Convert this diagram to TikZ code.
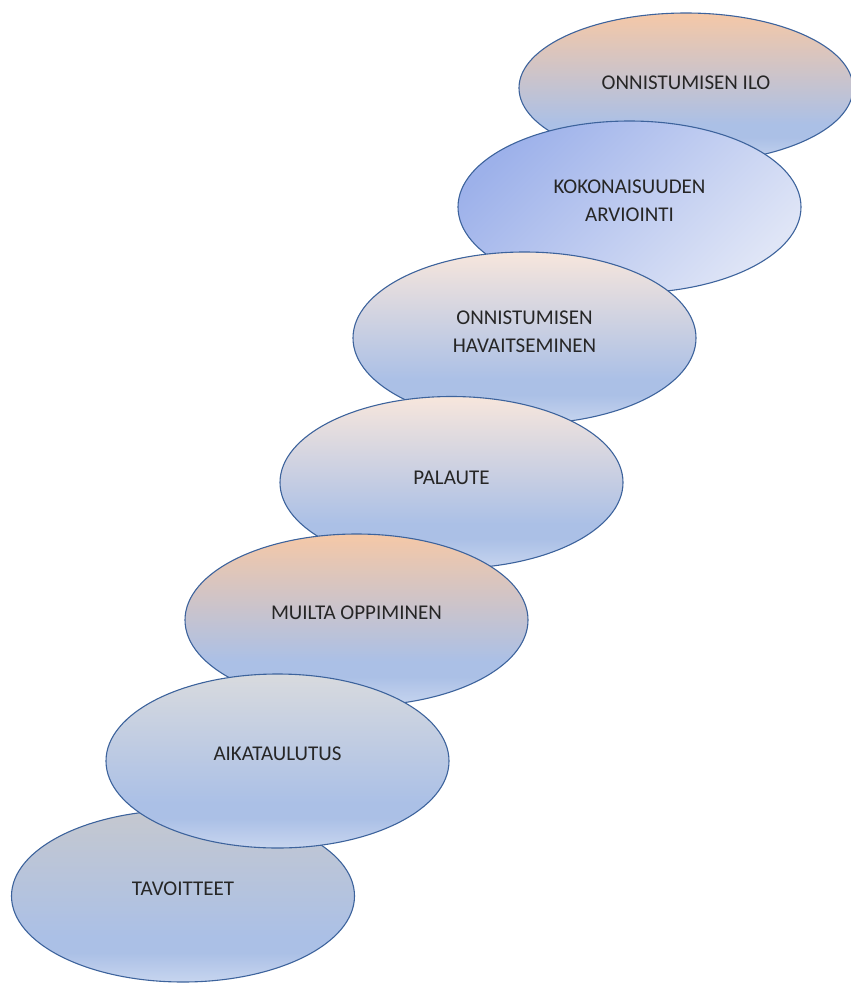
\documentclass[tikz,border=0pt]{standalone}
\usepackage{fontspec}
\setmainfont{Carlito}
\usetikzlibrary{shapes.geometric}

% gradient colours
\definecolor{stepblue}{HTML}{ABC0E6}
\definecolor{steplight}{HTML}{C7D5EF}
\definecolor{topgrey}{HTML}{C5C8CF}
\definecolor{toppale}{HTML}{D8DADE}
\definecolor{toporange}{HTML}{F5C8A7}
\definecolor{toppeach}{HTML}{F7E6DC}
\definecolor{kokdark}{HTML}{9DB1EA}
\definecolor{koklight}{HTML}{DFE5F6}
\definecolor{edgeblue}{HTML}{3D639C}
\definecolor{labeltext}{HTML}{262626}

% vertical gradient: top colour, then accent blue, lighter band at the bottom
\newcommand\makestepshading[2]{%
  \pgfdeclareverticalshading{#1}{100bp}{%
    color(0bp)=(steplight); color(25bp)=(steplight);
    color(33.5bp)=(stepblue); color(38bp)=(stepblue);
    color(75bp)=(#2); color(100bp)=(#2)}}
\makestepshading{shadegrey}{topgrey}
\makestepshading{shadepale}{toppale}
\makestepshading{shadeorange}{toporange}
\makestepshading{shadepeach}{toppeach}
\pgfdeclareverticalshading{shadekok}{100bp}{%
  color(0bp)=(koklight); color(25bp)=(koklight);
  color(75bp)=(kokdark); color(100bp)=(kokdark)}

\tikzset{
  stepoval/.style={ellipse, draw=edgeblue, line width=1.1pt, inner sep=0pt,
    minimum width=343pt, minimum height=172pt},
  steplabel/.style={text=labeltext, font=\fontsize{21}{27.5}\selectfont,
    align=center, inner sep=0pt},
}

\begin{document}
\begin{tikzpicture}[x=1pt,y=-1pt]
\useasboundingbox (0,0) rectangle (851,983);

% ovals, drawn so that each lower step lies over the one above it
\node[stepoval, shading=shadegrey] (e1) at (183,896) {};
\node[stepoval, minimum width=334pt, minimum height=150pt, shading=shadeorange] (e7) at (686,88) {};
\node[stepoval, shading=shadekok, shading angle=45] (e6) at (629.5,207) {};
\node[stepoval, shading=shadepeach] (e5) at (524.5,338) {};
\node[stepoval, shading=shadepeach] (e4) at (451.5,482.5) {};
\node[stepoval, shading=shadeorange] (e3) at (356.5,620) {};
\node[stepoval, minimum height=174pt, shading=shadepale] (e2) at (277.5,761) {};

% labels, sitting a little above each centre
\node[steplabel, yshift=7pt] (t1) at (e1) {TAVOITTEET};
\node[steplabel, yshift=7pt] (t2) at (e2) {AIKATAULUTUS};
\node[steplabel, yshift=7pt] (t3) at (e3) {MUILTA OPPIMINEN};
\node[steplabel, yshift=5pt] (t4) at (e4) {PALAUTE};
\node[steplabel, yshift=6pt] (t5) at (e5) {ONNISTUMISEN\\HAVAITSEMINEN};
\node[steplabel, yshift=6pt] (t6) at (e6) {KOKONAISUUDEN\\ARVIOINTI};
\node[steplabel, yshift=5pt] (t7) at (e7) {ONNISTUMISEN ILO};
\end{tikzpicture}
\end{document}
